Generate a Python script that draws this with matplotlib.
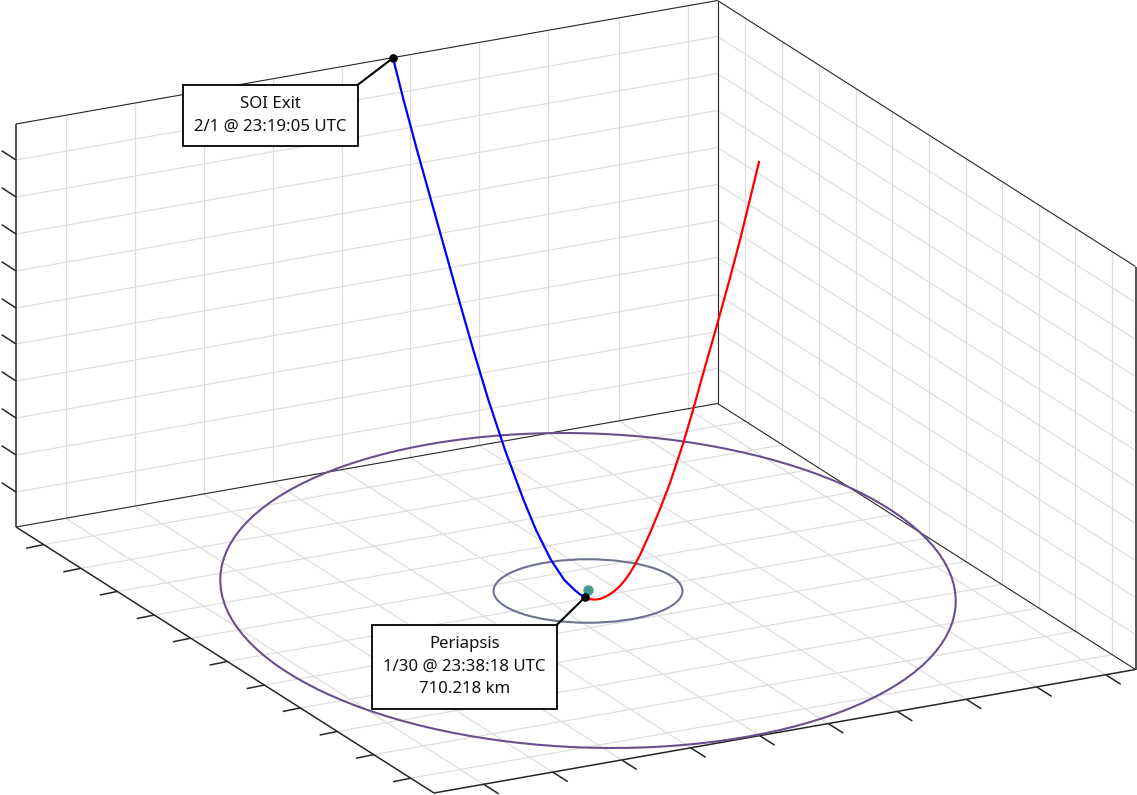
import numpy as np
import matplotlib
matplotlib.use("Agg")
import matplotlib.pyplot as plt
from matplotlib.patches import Ellipse, Rectangle

origin = np.array([16.0, 527.0])      # left corner of the floor
ex = np.array([701.5, -123.5])        # left corner -> back corner
ey = np.array([418.0, 266.0])         # left corner -> front corner

# tick offsets along each box edge, in pixels
x_ticks = [49.6, 118.7, 187.7, 256.7, 325.7, 394.3, 463.3, 532.3, 602.7, 671.7]
y_ticks = [27.7, 64.9, 101.3, 138.3, 174.7, 211.3, 248.3, 284.3, 321.3, 357.7, 394.7]
z_ticks = [35, 72, 109, 146, 183, 219, 256, 293, 330, 367]

blue_x = [393, 403.6, 417, 431, 445, 459, 473.3, 488.4, 505, 523.6, 536, 551, 564.3, 574.6, 579.5, 585]
blue_y = [58, 100, 150, 200, 250, 300, 350, 400, 450, 500, 530, 560, 580, 590, 594, 597.3]
red_x = [585, 590, 595, 600, 605, 610, 615, 620, 625, 630, 635, 640, 650, 660, 670, 683.3, 693.3, 705, 717, 730, 740, 750, 759]
red_y = [597.3, 599.2, 599.6, 599, 597, 594.2, 590.5, 586, 580, 573, 564.5, 555, 533, 509, 483, 443, 409, 367, 325, 278, 240, 199, 162]

# orbit rings: centre x, centre y, width, height, angle
outer_orbit = [588, 590.5, 735.8, 314.1, 2.0]
inner_orbit = [588, 591, 189, 63.5, 0.0]
body = [588, 590]
soi_exit = [393, 58]
periapsis = [585, 597.3]

soi_label = "SOI Exit\n2/1 @ 23:19:05 UTC"
peri_label = "Periapsis\n1/30 @ 23:38:18 UTC\n710.218 km"
soi_box = [183, 85, 174.5, 61]
peri_box = [371.7, 624.7, 185.3, 84.3]

GRID = "#dcdcdc"
EDGE = "#262626"


def seg(ax, a, b, **kw):
    ax.plot([a[0], b[0]], [a[1], b[1]], solid_capstyle="butt", **kw)


fig = plt.figure(figsize=(11.37, 7.95), dpi=100)
ax = fig.add_axes([0, 0, 1, 1])
ax.set_xlim(0, 1137)
ax.set_ylim(795, 0)
ax.axis("off")

# unit offsets: x is in pixels of horizontal run along ex, y along ey
xu = ex / ex[0]
yu = ey / ey[0]
zu = np.array([0.0, -1.0])
XMAX = ex[0]
YMAX = ey[0]
ZMAX = 403.0


def p3(x, y, z):
    return origin + x * xu + y * yu + z * zu


grid_kw = dict(color=GRID, lw=0.85, zorder=1)
for x in x_ticks:
    seg(ax, p3(x, 0, 0), p3(x, 0, ZMAX), **grid_kw)
    seg(ax, p3(x, 0, 0), p3(x, YMAX, 0), **grid_kw)
for y in y_ticks:
    seg(ax, p3(XMAX, y, 0), p3(XMAX, y, ZMAX), **grid_kw)
    seg(ax, p3(0, y, 0), p3(XMAX, y, 0), **grid_kw)
for z in z_ticks:
    seg(ax, p3(0, 0, z), p3(XMAX, 0, z), **grid_kw)
    seg(ax, p3(XMAX, 0, z), p3(XMAX, YMAX, z), **grid_kw)

# box outline
thin = dict(color=EDGE, lw=0.8, zorder=2)
thick = dict(color=EDGE, lw=1.1, zorder=2)
seg(ax, p3(0, 0, ZMAX), p3(XMAX, 0, ZMAX), **thin)
seg(ax, p3(XMAX, 0, ZMAX), p3(XMAX, YMAX, ZMAX), **thin)
seg(ax, p3(0, 0, 0), p3(XMAX, 0, 0), **thin)
seg(ax, p3(XMAX, 0, 0), p3(XMAX, YMAX, 0), **thin)
seg(ax, p3(XMAX, 0, 0), p3(XMAX, 0, ZMAX), **thin)
seg(ax, p3(0, 0, 0), p3(0, 0, ZMAX), **thick)
seg(ax, p3(XMAX, YMAX, 0), p3(XMAX, YMAX, ZMAX), **thick)
seg(ax, p3(0, 0, 0), p3(0, YMAX, 0), **thick)
seg(ax, p3(0, YMAX, 0), p3(XMAX, YMAX, 0), **thick)

# tick marks
for z in z_ticks:
    a = p3(0, 0, z)
    seg(ax, a, a + np.array([-14.3, -9.3]), **thick)
for y in y_ticks:
    a = p3(0, y, 0)
    seg(ax, a, a + np.array([-17.6, 3.6]), **thick)
for x in x_ticks:
    a = p3(x, YMAX, 0)
    seg(ax, a, a + np.array([15.0, 9.5]), **thick)

# orbits
for orb, col in [(outer_orbit, "#6a4e8e"), (inner_orbit, "#6d7192")]:
    ax.add_patch(Ellipse((orb[0], orb[1]), orb[2], orb[3], angle=orb[4], fill=False,
                         edgecolor=col, lw=1.5, zorder=3))

ax.plot(blue_x, blue_y, color="#0000ff", lw=1.6, zorder=4)
ax.plot(red_x, red_y, color="#ff0000", lw=1.6, zorder=4)
ax.plot(body[0], body[1], "o", color="#459b8b", ms=7.5, mew=0, zorder=5)

# leaders and end markers
ax.plot([soi_box[0] + soi_box[2], soi_exit[0]], [soi_box[1], soi_exit[1]], color="k", lw=1.5, zorder=6)
ax.plot([peri_box[0] + peri_box[2], periapsis[0]], [peri_box[1], periapsis[1]], color="k", lw=1.5, zorder=6)
ax.plot([soi_exit[0], periapsis[0]], [soi_exit[1], periapsis[1]], "o", color="k", ms=6.2, mew=0, zorder=7)

# labels
for box, label in [(soi_box, soi_label), (peri_box, peri_label)]:
    ax.add_patch(Rectangle((box[0], box[1]), box[2], box[3], facecolor="white",
                           edgecolor="k", lw=1.3, zorder=8))
    ax.text(box[0] + box[2] / 2, box[1] + box[3] / 2, label, ha="center", va="center",
            ma="center", family="Noto Sans", fontsize=12.1, color="#111111", linespacing=1.55, zorder=9)

fig.savefig("out.png", dpi=100)
